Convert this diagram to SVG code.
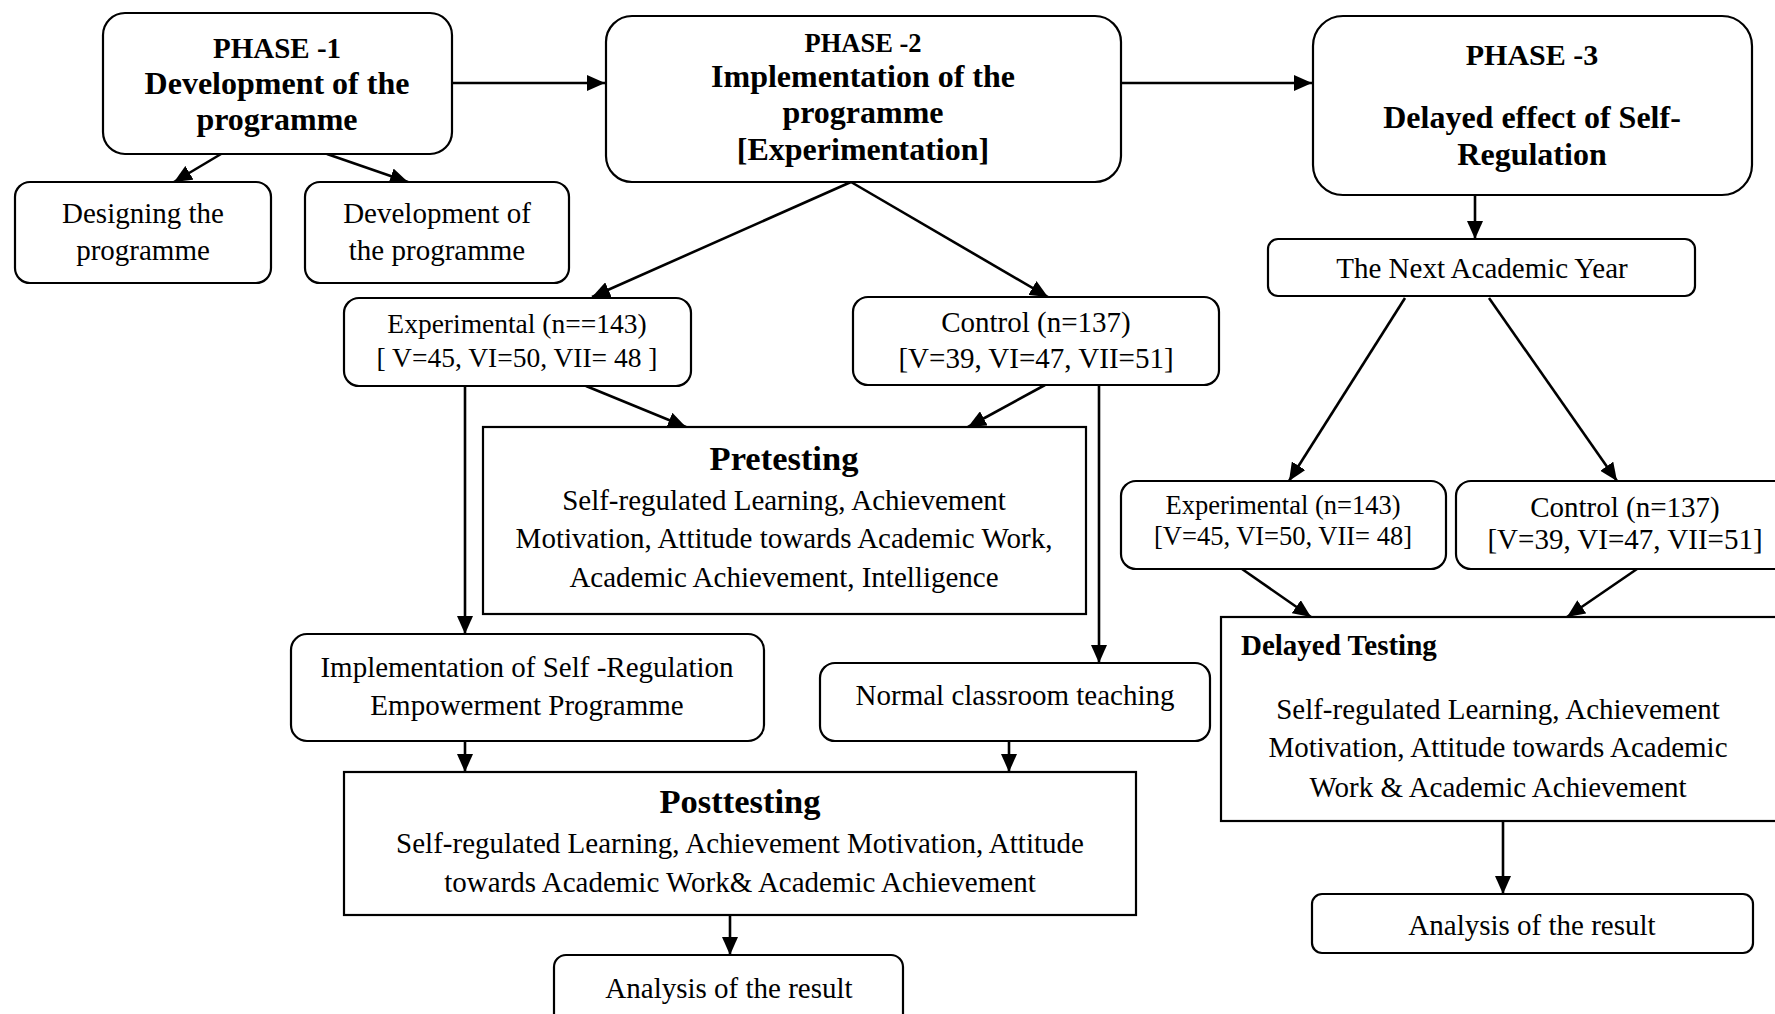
<svg xmlns="http://www.w3.org/2000/svg" width="1775" height="1014" viewBox="0 0 1775 1014">
  <style>
    .box { fill: #ffffff; stroke: #000000; stroke-width: 2.2; }
    .t { font-family: "Liberation Serif", "Times New Roman", serif; fill: #000000; text-anchor: middle; }
    .n { font-size: 29px; }
    .b { font-weight: bold; }
    .edge { stroke: #000000; stroke-width: 2.6; fill: none; marker-end: url(#arrow); }
  </style>
  <defs>
    <marker id="arrow" markerUnits="userSpaceOnUse" markerWidth="19" markerHeight="16" refX="18" refY="8" orient="auto">
      <path d="M0,0 L18,8 L0,16 z" fill="#000000"/>
    </marker>
  </defs>

  <rect width="1775" height="1014" fill="#ffffff"/>

  <!-- connectors -->
  <g id="connectors">
    <line class="edge" x1="452" y1="83" x2="605" y2="83"/>
    <line class="edge" x1="1121" y1="83" x2="1312" y2="83"/>
    <line class="edge" x1="221" y1="154" x2="174" y2="182"/>
    <line class="edge" x1="327" y1="154" x2="408" y2="182"/>
    <line class="edge" x1="851" y1="182" x2="592" y2="297"/>
    <line class="edge" x1="851" y1="182" x2="1048" y2="297"/>
    <line class="edge" x1="586" y1="386" x2="686" y2="427"/>
    <line class="edge" x1="1045" y1="385" x2="968" y2="427"/>
    <line class="edge" x1="465" y1="386" x2="465" y2="634"/>
    <line class="edge" x1="1099" y1="385" x2="1099" y2="663"/>
    <line class="edge" x1="465" y1="741" x2="465" y2="772"/>
    <line class="edge" x1="1009" y1="741" x2="1009" y2="772"/>
    <line class="edge" x1="730" y1="915" x2="730" y2="955"/>
    <line class="edge" x1="1475" y1="195" x2="1475" y2="239"/>
    <line class="edge" x1="1405" y1="298" x2="1289" y2="481"/>
    <line class="edge" x1="1489" y1="298" x2="1617" y2="481"/>
    <line class="edge" x1="1242" y1="569" x2="1311" y2="617"/>
    <line class="edge" x1="1637" y1="569" x2="1567" y2="617"/>
    <line class="edge" x1="1503" y1="821" x2="1503" y2="894"/>
  </g>

  <!-- Phase 1 -->
  <g id="phase1">
    <rect class="box" x="103" y="13" width="349" height="141" rx="22"/>
    <text class="t b" x="277" y="58" font-size="29">PHASE -1</text>
    <text class="t b" x="277" y="94" font-size="32">Development of the</text>
    <text class="t b" x="277" y="130" font-size="32">programme</text>
  </g>
  <g id="designing">
    <rect class="box" x="15" y="182" width="256" height="101" rx="15"/>
    <text class="t n" x="143" y="223">Designing the</text>
    <text class="t n" x="143" y="260">programme</text>
  </g>
  <g id="development">
    <rect class="box" x="305" y="182" width="264" height="101" rx="15"/>
    <text class="t n" x="437" y="223">Development of</text>
    <text class="t n" x="437" y="260">the programme</text>
  </g>

  <!-- Phase 2 -->
  <g id="phase2">
    <rect class="box" x="606" y="16" width="515" height="166" rx="26"/>
    <text class="t b" x="863" y="52" font-size="26.5">PHASE -2</text>
    <text class="t b" x="863" y="87" font-size="32">Implementation of the</text>
    <text class="t b" x="863" y="123" font-size="32">programme</text>
    <text class="t b" x="863" y="160" font-size="32">[Experimentation]</text>
  </g>
  <g id="experimental">
    <rect class="box" x="344" y="298" width="347" height="88" rx="15"/>
    <text class="t" x="517" y="333" font-size="27.5">Experimental (n==143)</text>
    <text class="t" x="517" y="367" font-size="27.5">[ V=45, VI=50, VII= 48 ]</text>
  </g>
  <g id="control">
    <rect class="box" x="853" y="297" width="366" height="88" rx="15"/>
    <text class="t n" x="1036" y="332">Control (n=137)</text>
    <text class="t n" x="1036" y="368">[V=39, VI=47, VII=51]</text>
  </g>
  <g id="pretesting">
    <rect class="box" x="483" y="427" width="603" height="187"/>
    <text class="t b" x="784" y="470" font-size="34.5">Pretesting</text>
    <text class="t n" x="784" y="510">Self-regulated Learning, Achievement</text>
    <text class="t n" x="784" y="548">Motivation, Attitude towards Academic Work,</text>
    <text class="t n" x="784" y="587">Academic Achievement, Intelligence</text>
  </g>
  <g id="implementation">
    <rect class="box" x="291" y="634" width="473" height="107" rx="16"/>
    <text class="t n" x="527" y="677">Implementation of Self -Regulation</text>
    <text class="t n" x="527" y="715">Empowerment Programme</text>
  </g>
  <g id="normal-teaching">
    <rect class="box" x="820" y="663" width="390" height="78" rx="15"/>
    <text class="t n" x="1015" y="705">Normal classroom teaching</text>
  </g>
  <g id="posttesting">
    <rect class="box" x="344" y="772" width="792" height="143"/>
    <text class="t b" x="740" y="813" font-size="34.5">Posttesting</text>
    <text class="t n" x="740" y="853">Self-regulated Learning, Achievement Motivation, Attitude</text>
    <text class="t n" x="740" y="892">towards Academic Work&amp; Academic Achievement</text>
  </g>
  <g id="analysis-post">
    <rect class="box" x="554" y="955" width="349" height="80" rx="12"/>
    <text class="t n" x="729" y="998">Analysis of the result</text>
  </g>

  <!-- Phase 3 -->
  <g id="phase3">
    <rect class="box" x="1313" y="16" width="439" height="179" rx="30"/>
    <text class="t b" x="1532" y="65" font-size="30">PHASE -3</text>
    <text class="t b" x="1532" y="128" font-size="32">Delayed effect of Self-</text>
    <text class="t b" x="1532" y="165" font-size="32">Regulation</text>
  </g>
  <g id="next-year">
    <rect class="box" x="1268" y="239" width="427" height="57" rx="10"/>
    <text class="t n" x="1482" y="278">The Next Academic Year</text>
  </g>
  <g id="experimental-delayed">
    <rect class="box" x="1121" y="481" width="325" height="88" rx="15"/>
    <text class="t" x="1283" y="514" font-size="26.5">Experimental (n=143)</text>
    <text class="t" x="1283" y="545" font-size="26.5">[V=45, VI=50, VII= 48]</text>
  </g>
  <g id="control-delayed">
    <rect class="box" x="1456" y="481" width="340" height="88" rx="15"/>
    <text class="t n" x="1625" y="517">Control (n=137)</text>
    <text class="t n" x="1625" y="549">[V=39, VI=47, VII=51]</text>
  </g>
  <g id="delayed-testing">
    <rect class="box" x="1221" y="617" width="580" height="204"/>
    <text class="t b" x="1241" y="655" font-size="29" style="text-anchor:start">Delayed Testing</text>
    <text class="t n" x="1498" y="719">Self-regulated Learning, Achievement</text>
    <text class="t n" x="1498" y="757">Motivation, Attitude towards Academic</text>
    <text class="t n" x="1498" y="797">Work &amp; Academic Achievement</text>
  </g>
  <g id="analysis-delayed">
    <rect class="box" x="1312" y="894" width="441" height="59" rx="10"/>
    <text class="t n" x="1532" y="935">Analysis of the result</text>
  </g>
</svg>
